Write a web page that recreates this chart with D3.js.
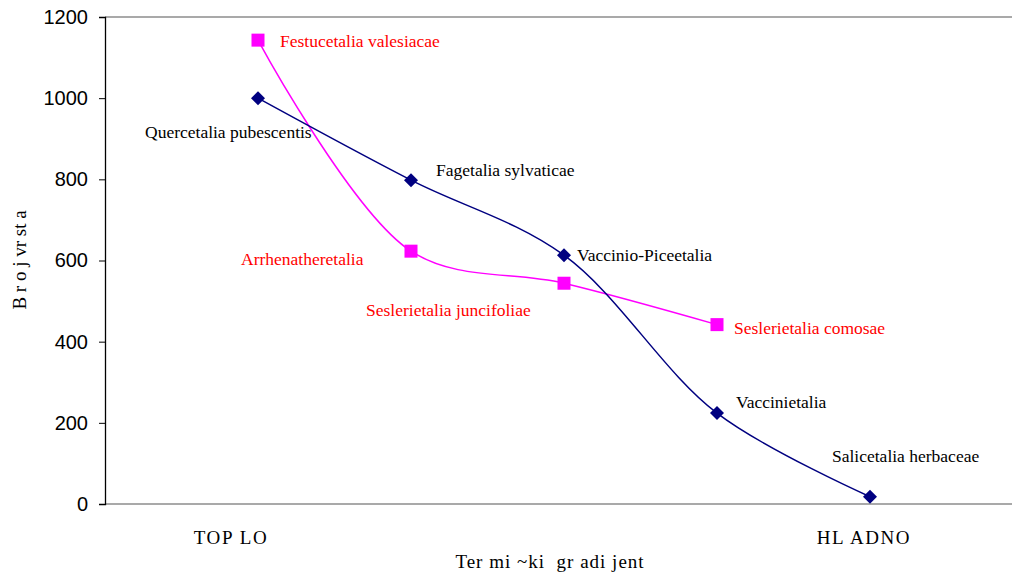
<!DOCTYPE html>
<html>
<head>
<meta charset="utf-8">
<script src="https://cdn.jsdelivr.net/npm/d3@7"></script>
<style>
  html, body { margin: 0; padding: 0; background: #fff; }
  svg { display: block; }
</style>
</head>
<body>
<svg id="chart" width="1012" height="575"></svg>
<script>
// Data ------------------------------------------------------------------
// x = position along the thermal gradient (1 = warm ... 5 = cold)
const navyX      = [1, 2, 3, 4, 5];
const navyValues = [1000, 798, 613, 224, 18];
const navyNames  = ["Quercetalia pubescentis", "Fagetalia sylvaticae",
                    "Vaccinio-Piceetalia", "Vaccinietalia", "Salicetalia herbaceae"];

const pinkX      = [1, 2, 3, 4];
const pinkValues = [1143, 623, 544, 442];
const pinkNames  = ["Festucetalia valesiacae", "Arrhenatheretalia",
                    "Seslerietalia juncifoliae", "Seslerietalia comosae"];

const yTicks = [0, 200, 400, 600, 800, 1000, 1200];
const xEndLabels = ["TOP LO", "HL ADNO"];
const xTitle = "Ter mi ~ki  gr adi jent";
const yTitle = "B r o j vr st a";

// Layout ----------------------------------------------------------------
const svg = d3.select("#chart");
const plotLeft = 105, plotTop = 17, plotBottom = 504;

const x = d3.scaleLinear().domain([0, 6]).range([plotLeft, 1023]);
const y = d3.scaleLinear().domain([0, 1200]).range([plotBottom, plotTop]);

const SERIF = "'Liberation Serif', 'Times New Roman', serif";
const SANS = "'Liberation Sans', Arial, sans-serif";

// top border (1200) and bottom axis line, grey
svg.append("line")
  .attr("x1", plotLeft).attr("x2", 1012)
  .attr("y1", y(1200)).attr("y2", y(1200))
  .attr("stroke", "#8c8c8c").attr("stroke-width", 1.5);
svg.append("line")
  .attr("x1", plotLeft).attr("x2", 1012)
  .attr("y1", y(0)).attr("y2", y(0))
  .attr("stroke", "#8c8c8c").attr("stroke-width", 1.5);

// y axis
const yAxis = svg.append("g")
  .attr("transform", `translate(${plotLeft},0)`)
  .call(d3.axisLeft(y).tickValues(yTicks).tickSize(6).tickPadding(11).tickFormat(d3.format("d")));
yAxis.select(".domain").attr("stroke", "#000").attr("stroke-width", 1.3);
yAxis.selectAll(".tick line").attr("stroke", "#000");
yAxis.selectAll(".tick text")
  .attr("font-family", SANS).attr("font-size", 20).attr("fill", "#000");

// Axis titles
svg.append("text")
  .attr("x", 550).attr("y", 568)
  .attr("text-anchor", "middle")
  .attr("font-family", SERIF).attr("font-size", 19)
  .attr("letter-spacing", 1)
  .attr("fill", "#000").style("white-space", "pre")
  .text(xTitle);

svg.append("text")
  .attr("transform", "translate(26,260) rotate(-90)")
  .attr("text-anchor", "middle")
  .attr("font-family", SERIF).attr("font-size", 19)
  .attr("fill", "#000")
  .text(yTitle);

// End labels of the category axis
[[231, xEndLabels[0]], [864, xEndLabels[1]]].forEach(([cx, t]) => {
  svg.append("text")
    .attr("x", cx).attr("y", 544)
    .attr("text-anchor", "middle")
    .attr("font-family", SERIF).attr("font-size", 19)
    .attr("letter-spacing", 1.6)
    .attr("fill", "#000")
    .text(t);
});

// Lines --------------------------------------------------------------------
const line = d3.line()
  .x(d => x(d[0])).y(d => y(d[1]))
  .curve(d3.curveCatmullRom.alpha(0.5));

const navyPts = navyX.map((v, i) => [v, navyValues[i]]);
const pinkPts = pinkX.map((v, i) => [v, pinkValues[i]]);

svg.append("path").datum(pinkPts)
  .attr("d", line).attr("fill", "none")
  .attr("stroke", "#ff00ff").attr("stroke-width", 1.5);
svg.append("path").datum(navyPts)
  .attr("d", line).attr("fill", "none")
  .attr("stroke", "#000080").attr("stroke-width", 1.5);

// Markers
svg.selectAll(".sq").data(pinkPts).join("rect")
  .attr("x", d => x(d[0]) - 6.5).attr("y", d => y(d[1]) - 6.5)
  .attr("width", 13).attr("height", 13)
  .attr("fill", "#ff00ff");

svg.selectAll(".dm").data(navyPts).join("path")
  .attr("d", d3.symbol(d3.symbolSquare, 98))
  .attr("transform", d => `translate(${x(d[0])},${y(d[1])}) rotate(45)`)
  .attr("fill", "#000080");

// Point labels (offsets relative to each point)
const navyOffsets = [[-113, 40], [25, -4], [13, 6], [19, -5], [-38, -35]];
const pinkOffsets = [[22, 7], [-170, 14], [-198, 33], [17, 9]];

svg.selectAll(".nl").data(navyPts).join("text")
  .attr("x", (d, i) => x(d[0]) + navyOffsets[i][0])
  .attr("y", (d, i) => y(d[1]) + navyOffsets[i][1])
  .attr("font-family", SERIF).attr("font-size", 17.5)
  .attr("fill", "#000")
  .text((d, i) => navyNames[i]);

svg.selectAll(".pl").data(pinkPts).join("text")
  .attr("x", (d, i) => x(d[0]) + pinkOffsets[i][0])
  .attr("y", (d, i) => y(d[1]) + pinkOffsets[i][1])
  .attr("font-family", SERIF).attr("font-size", 17.5)
  .attr("fill", "#ff0000")
  .text((d, i) => pinkNames[i]);
</script>
</body>
</html>
